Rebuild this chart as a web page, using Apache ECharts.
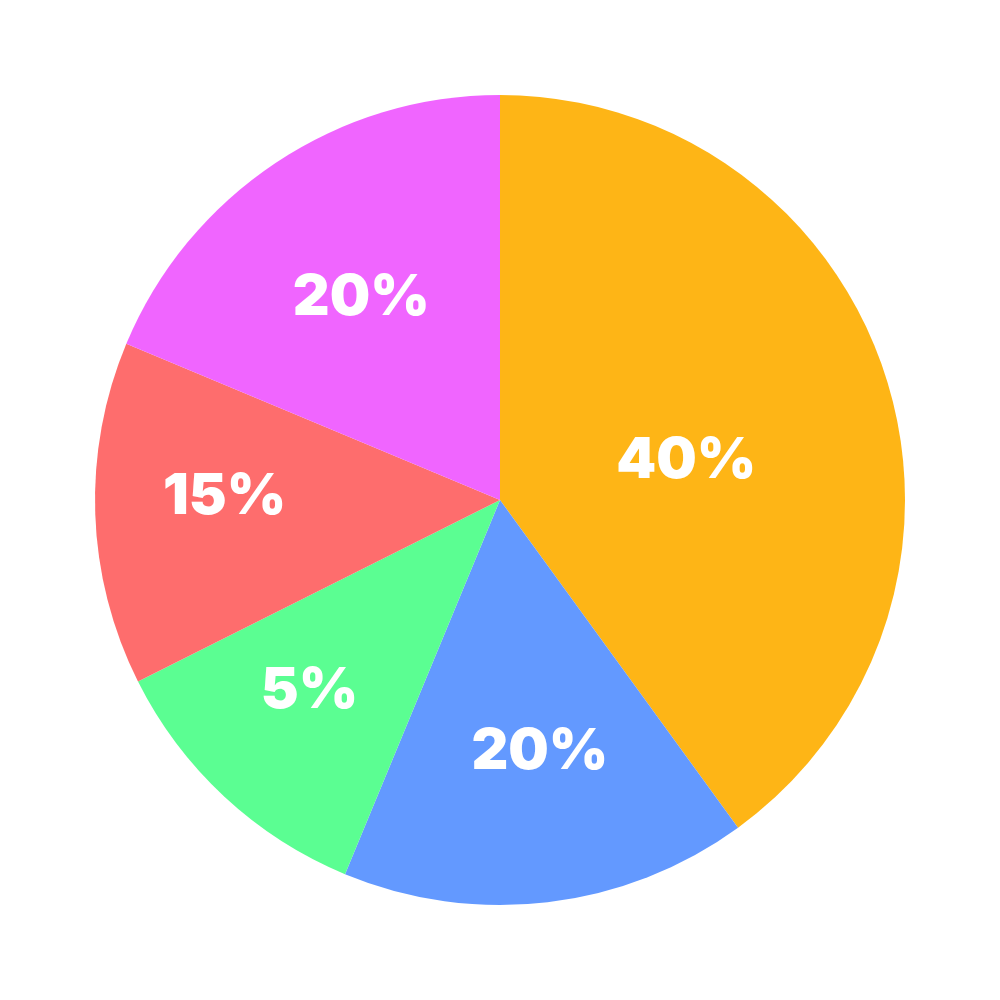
<!DOCTYPE html>
<html>
<head>
<meta charset="utf-8">
<script src="https://cdn.jsdelivr.net/npm/echarts@6/dist/echarts.min.js"></script>
<style>
  html, body { margin: 0; padding: 0; background: #fff; }
  #main { width: 1000px; height: 1000px; }
</style>
</head>
<body>
<div id="main"></div>
<script>
// slice sizes (share of the circle)
const names = ['A', 'B', 'C', 'D', 'E']
const values = [40, 16.25, 11.35, 13.7, 18.7]
// printed labels
const labels = ['40%', '20%', '5%', '15%', '20%']
const colors = ['#FEB516', '#6399FF', '#5BFE92', '#FE6D6D', '#F065FF']
// where each label sits: [angle from top in degrees, fraction of radius]
const labelPolar = [[78, 0.47], [171, 0.63], [225, 0.665], [270.6, 0.68], [325.5, 0.605]]

const chart = echarts.init(document.getElementById('main'))
const cx = 500
const cy = 500
const R = 405

chart.setOption({
  animation: false,
  series: [{
    type: 'pie',
    center: [cx, cy],
    radius: [0, R],
    startAngle: 90,
    clockwise: true,
    avoidLabelOverlap: false,
    labelLine: { show: false },
    label: {
      show: true,
      position: 'inside',
      color: '#fff',
      fontFamily: 'Inter',
      fontWeight: 900,
      fontSize: 57,
      formatter: p => labels[p.dataIndex]
    },
    labelLayout: function (params) {
      const pos = labelPolar[params.dataIndex]
      const a = pos[0] * Math.PI / 180
      return {
        x: cx + Math.sin(a) * R * pos[1],
        y: cy - Math.cos(a) * R * pos[1],
        align: 'center',
        verticalAlign: 'middle'
      }
    },
    itemStyle: { borderWidth: 0 },
    data: values.map((v, i) => ({
      name: names[i],
      value: v,
      itemStyle: { color: colors[i] }
    }))
  }]
})
</script>
</body>
</html>
